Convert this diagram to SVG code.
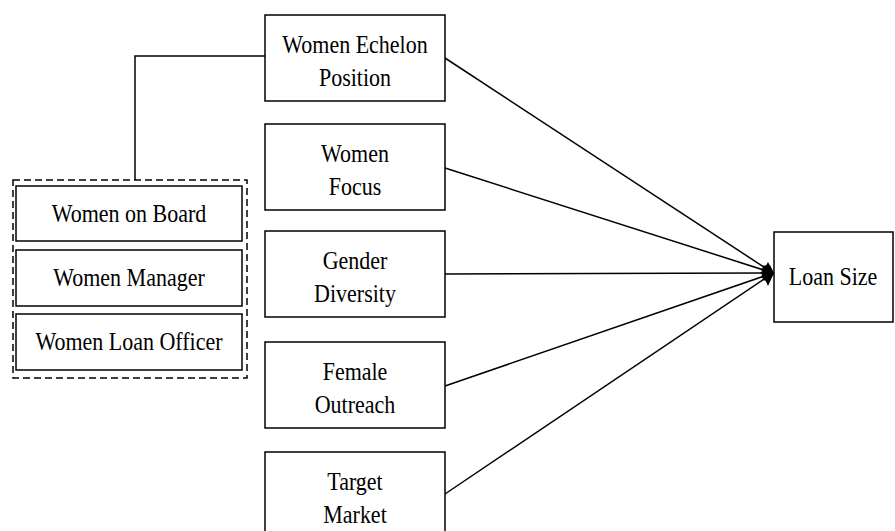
<svg xmlns="http://www.w3.org/2000/svg" width="895" height="531" viewBox="0 0 895 531">
<defs>
<style>
.box{fill:#fff;stroke:#000;stroke-width:1.5}
.dash{fill:none;stroke:#000;stroke-width:1.5;stroke-dasharray:7,4}
text{font-family:"Liberation Serif","Times New Roman",serif;font-size:22px;fill:#000;text-anchor:middle}
.conn{fill:none;stroke:#000;stroke-width:1.5}
</style>
<marker id="ah" viewBox="0 0 14 12" refX="13" refY="6" markerWidth="14" markerHeight="12" markerUnits="userSpaceOnUse" orient="auto">
<path d="M0,6 L6,1 L14,6 L6,11 Z" fill="#000"/>
</marker>
</defs>
<rect width="895" height="531" fill="#fff"/>
<g id="connectors">
<polyline class="conn" points="135,180 135,56 265,56"/>
<line class="conn" x1="445" y1="58" x2="773" y2="273" marker-end="url(#ah)"/>
<line class="conn" x1="445" y1="168" x2="773" y2="273" marker-end="url(#ah)"/>
<line class="conn" x1="445" y1="274" x2="773" y2="273" marker-end="url(#ah)"/>
<line class="conn" x1="445" y1="386" x2="773" y2="273" marker-end="url(#ah)"/>
<line class="conn" x1="445" y1="494" x2="773" y2="273" marker-end="url(#ah)"/>
<polygon points="762,273 768,262 774,273 768,286" fill="#000"/>
</g>
<g id="group-women">
<rect class="dash" x="13" y="180" width="234" height="198"/>
</g>
<g id="women-on-board">
<rect class="box" x="16" y="186" width="226" height="55"/>
<text transform="translate(129,222) scale(1,1.15)">Women on Board</text>
</g>
<g id="women-manager">
<rect class="box" x="16" y="250" width="226" height="56"/>
<text transform="translate(129,286) scale(1,1.15)">Women Manager</text>
</g>
<g id="women-loan-officer">
<rect class="box" x="16" y="314" width="226" height="56"/>
<text transform="translate(129,350) scale(1,1.15)">Women Loan Officer</text>
</g>
<g id="women-echelon">
<rect class="box" x="265" y="15" width="180" height="86"/>
<text transform="translate(355,53) scale(1,1.15)">Women Echelon</text>
<text transform="translate(355,86) scale(1,1.15)">Position</text>
</g>
<g id="women-focus">
<rect class="box" x="265" y="124" width="180" height="86"/>
<text transform="translate(355,162) scale(1,1.15)">Women</text>
<text transform="translate(355,195) scale(1,1.15)">Focus</text>
</g>
<g id="gender-diversity">
<rect class="box" x="265" y="231" width="180" height="86"/>
<text transform="translate(355,269) scale(1,1.15)">Gender</text>
<text transform="translate(355,302) scale(1,1.15)">Diversity</text>
</g>
<g id="female-outreach">
<rect class="box" x="265" y="342" width="180" height="86"/>
<text transform="translate(355,380) scale(1,1.15)">Female</text>
<text transform="translate(355,413) scale(1,1.15)">Outreach</text>
</g>
<g id="target-market">
<rect class="box" x="265" y="452" width="180" height="86"/>
<text transform="translate(355,490) scale(1,1.15)">Target</text>
<text transform="translate(355,523) scale(1,1.15)">Market</text>
</g>
<g id="loan-size">
<rect class="box" x="774" y="232" width="119" height="90"/>
<text transform="translate(833,285) scale(1,1.15)">Loan Size</text>
</g>
</svg>
